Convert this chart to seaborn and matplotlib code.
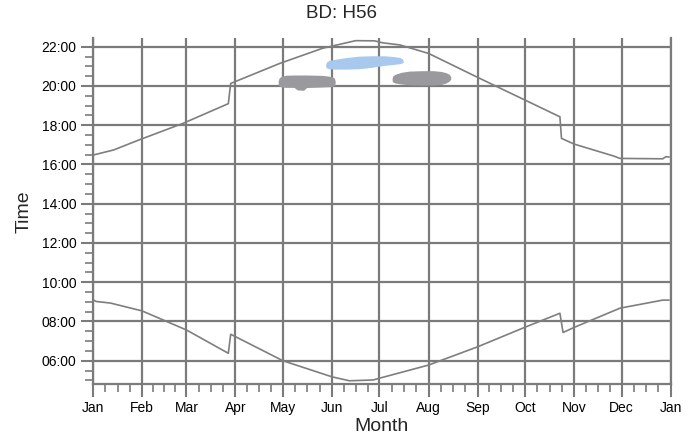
import numpy as np
import pandas as pd
import matplotlib
matplotlib.use("Agg")
import matplotlib.pyplot as plt
import seaborn as sns
from matplotlib.ticker import FixedLocator, FuncFormatter

# ---------------- data ----------------
month_labels = ["Jan", "Feb", "Mar", "Apr", "May", "Jun", "Jul",
                "Aug", "Sep", "Oct", "Nov", "Dec", "Jan"]
month_starts = [0, 31, 59, 90, 120, 151, 181, 212, 243, 273, 304, 334, 365]

sunset_days = [0, 13, 30, 57, 85.5, 87, 118, 145, 160, 166, 178, 183, 194,
               212, 243, 273, 295, 296, 304, 329, 333, 360, 362, 364]
sunset_time = [16.48, 16.74, 17.28, 18.10, 19.10, 20.13, 21.15, 21.92, 22.20,
               22.31, 22.30, 22.20, 22.09, 21.66, 20.44, 19.28, 18.43, 17.33,
               17.04, 16.43, 16.31, 16.29, 16.40, 16.38]

sunrise_days = [0, 2, 11, 31, 59, 85.5, 87, 120, 151, 162, 177, 181, 212,
                243, 273, 295, 297, 304, 333, 360, 364]
sunrise_time = [9.11, 9.02, 8.94, 8.54, 7.57, 6.38, 7.35, 6.00, 5.18, 4.98,
                5.02, 5.11, 5.78, 6.71, 7.71, 8.42, 7.44, 7.70, 8.68, 9.09, 9.09]

# activity blobs: day, upper time, lower time
gray1_days = [117, 117.5, 119, 122, 127, 129, 133, 135, 145, 151, 152.5, 153]
gray1_hi = [20.25, 20.40, 20.50, 20.55, 20.56, 20.56, 20.56, 20.56, 20.54, 20.48, 20.40, 20.25]
gray1_lo = [20.10, 20.00, 19.95, 19.93, 19.93, 19.80, 19.78, 19.92, 19.95, 19.97, 20.02, 20.15]

blue_days = [147, 147.5, 149, 153, 160, 168, 176, 184, 190, 194, 195.5, 196]
blue_hi = [21.10, 21.22, 21.30, 21.36, 21.45, 21.52, 21.54, 21.54, 21.50, 21.45, 21.38, 21.28]
blue_lo = [21.00, 20.92, 20.88, 20.86, 20.86, 20.88, 20.95, 21.05, 21.10, 21.14, 21.18, 21.22]

gray2_days = [189, 189.5, 191, 195, 200, 208, 215, 220, 223, 225, 226]
gray2_hi = [20.42, 20.52, 20.60, 20.70, 20.76, 20.78, 20.78, 20.74, 20.68, 20.60, 20.48]
gray2_lo = [20.28, 20.20, 20.15, 20.10, 20.06, 20.04, 20.05, 20.08, 20.15, 20.25, 20.35]

hour_ticks = [6, 8, 10, 12, 14, 16, 18, 20, 22]

# ---------------- style ----------------
sns.set_style("white")
plt.rcParams["font.family"] = ["Liberation Sans", "DejaVu Sans"]

GRID = "#7b7b7b"
LINE = "#7e7e7e"

fig = plt.figure(figsize=(6.99, 4.43), dpi=100)
ax = fig.add_axes([93 / 699, 1 - 384.3 / 443, (670.7 - 93) / 699, (384.3 - 38.3) / 443])

# blobs
ax.fill_between(gray1_days, gray1_lo, gray1_hi, color="#9a9a9e", lw=0, zorder=2)
ax.fill_between(blue_days, blue_lo, blue_hi, color="#a8c8ee", lw=0, zorder=2)
ax.fill_between(gray2_days, gray2_lo, gray2_hi, color="#9a9a9e", lw=0, zorder=2)

sunset_df = pd.DataFrame({"day": sunset_days, "time": sunset_time})
sunrise_df = pd.DataFrame({"day": sunrise_days, "time": sunrise_time})
sns.lineplot(data=sunset_df, x="day", y="time", ax=ax, color=LINE, lw=1.2,
             sort=False, estimator=None, zorder=3)
sns.lineplot(data=sunrise_df, x="day", y="time", ax=ax, color=LINE, lw=1.2,
             sort=False, estimator=None, zorder=3)

ax.set_xlim(0, 365)
ax.set_ylim(4.80, 22.43)

# x ticks
ax.xaxis.set_major_locator(FixedLocator(month_starts))
ax.set_xticklabels(month_labels)
minor_x = []
for s, e in zip(month_starts[:-1], month_starts[1:]):
    L = e - s
    minor_x += [s + L / 4, s + L / 2, s + 3 * L / 4]
ax.xaxis.set_minor_locator(FixedLocator(minor_x))

# y ticks
ax.yaxis.set_major_locator(FixedLocator(hour_ticks))
ax.yaxis.set_major_formatter(FuncFormatter(lambda v, p: f"{int(round(v)):02d}:00"))
ax.yaxis.set_minor_locator(FixedLocator(list(np.arange(5.0, 22.01, 0.5))))

ax.tick_params(axis="both", which="major", direction="out", length=9, width=1.5,
               color=GRID, labelsize=10, labelcolor="black", pad=3)
ax.tick_params(axis="both", which="minor", direction="out", length=5.5, width=1.2,
               color=GRID)
ax.tick_params(axis="x", which="both", bottom=True)
ax.tick_params(axis="y", which="both", left=True)

ax.grid(True, which="major", color=GRID, lw=1.6, zorder=1)
ax.set_axisbelow(True)

for side in ["left", "bottom", "right"]:
    ax.spines[side].set_visible(True)
    ax.spines[side].set_color(GRID)
    ax.spines[side].set_linewidth(1.6)
ax.spines["top"].set_visible(False)

ax.set_xlabel("Month", fontsize=14, labelpad=2)
ax.set_ylabel("Time", fontsize=14, labelpad=6)
fig.text(341.7 / 699, 1 - 13 / 443, "BD: H56", fontsize=13.5, ha="center", va="center")

fig.savefig("out.png", dpi=100)
